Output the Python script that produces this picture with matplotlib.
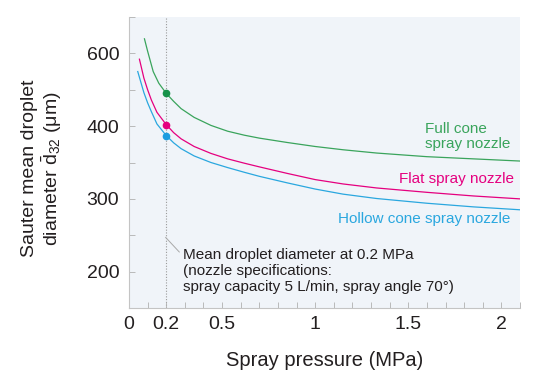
import matplotlib
matplotlib.use("Agg")
import matplotlib.pyplot as plt
from matplotlib.ticker import MultipleLocator

plt.rcParams['font.family'] = ['Liberation Sans', 'DejaVu Sans']
plt.rcParams['mathtext.fontset'] = 'custom'
plt.rcParams['mathtext.rm'] = 'Liberation Sans'

# ========== DATA ==========
full_p = [0.083, 0.1, 0.13, 0.16, 0.2, 0.24, 0.28, 0.35, 0.44, 0.53, 0.62, 0.7, 0.85, 1.0, 1.15, 1.33, 1.6, 1.85, 2.1]
full_d = [520, 503, 475, 459, 445, 434, 424, 412, 401, 393, 387.5, 383.5, 377.5, 372, 367.5, 363, 358, 355, 352]

flat_p = [0.056, 0.08, 0.1, 0.12, 0.15, 0.2, 0.24, 0.28, 0.35, 0.44, 0.53, 0.62, 0.7, 0.85, 1.0, 1.15, 1.33, 1.6, 1.85, 2.1]
flat_d = [492, 466, 450, 436, 419, 402, 391, 382.5, 372, 362.5, 355, 349, 344, 335, 326.5, 320.5, 315, 309, 304, 300]

hollow_p = [0.047, 0.08, 0.1, 0.12, 0.15, 0.2, 0.24, 0.28, 0.35, 0.44, 0.53, 0.62, 0.7, 0.85, 1.0, 1.15, 1.33, 1.6, 1.85, 2.1]
hollow_d = [475, 446, 432, 420, 403, 387, 377, 369, 359, 350, 343, 336.5, 331, 322, 313.5, 306.5, 300.5, 294, 289, 285]

spec_p = 0.2
spec_d = [445, 402, 387]

x_ticks = [0, 0.2, 0.5, 1, 1.5, 2]
x_labels = ["0", "0.2", "0.5", "1", "1.5", "2"]
y_ticks = [200, 300, 400, 500]
y_labels = ["200", "300", "400", "600"]

GREEN = "#3aa45c"
PINK = "#e5007f"
BLUE = "#2aa7df"
GREEN_DOT = "#17924a"
BLUE_DOT = "#1c9de0"

# ========== PLOT ==========
fig = plt.figure(figsize=(5.43, 3.88), dpi=100)
ax = fig.add_axes([129 / 543, 80 / 388, 391 / 543, 291 / 388])
ax.set_facecolor("#f0f4f9")

ax.plot(full_p, full_d, color=GREEN, lw=0.9)
ax.plot(flat_p, flat_d, color=PINK, lw=0.9)
ax.plot(hollow_p, hollow_d, color=BLUE, lw=0.9)

ax.axvline(spec_p, color="#9a9a9a", lw=0.8, ls=(0, (1, 1.5)), zorder=1)
for d, c in zip(spec_d, [GREEN_DOT, PINK, BLUE_DOT]):
    ax.plot(spec_p, d, "o", color=c, ms=4.5, zorder=4)

ax.set_xlim(0, 2.1)
ax.set_ylim(150, 550)
ax.set_xticks(x_ticks)
ax.set_xticklabels(x_labels)
ax.set_yticks(y_ticks)
ax.set_yticklabels(y_labels)
ax.xaxis.set_minor_locator(MultipleLocator(0.1))
ax.yaxis.set_minor_locator(MultipleLocator(50))
ax.tick_params(which="both", direction="in", color="#b0b0b0", width=0.6)
ax.tick_params(which="major", length=4, labelsize=14, labelcolor="#231f20")
ax.tick_params(axis="x", which="major", pad=6)
ax.tick_params(axis="y", which="major", pad=7)
ax.tick_params(which="minor", length=4)

for s in ["top", "right"]:
    ax.spines[s].set_visible(False)
for s in ["left", "bottom"]:
    ax.spines[s].set_color("#c4c4c4")
    ax.spines[s].set_linewidth(0.8)

ax.set_xlabel("Spray pressure (MPa)", fontsize=14.5, color="#231f20", labelpad=13)
ax.set_ylabel("Sauter mean droplet\ndiameter $\\bar{\\mathrm{d}}_{32}$ (μm)",
              fontsize=14, color="#231f20", linespacing=1.1)
ax.yaxis.set_label_coords(-0.165, 0.48)

ax.text(1.59, 366, "Full cone\nspray nozzle", color=GREEN, fontsize=11,
        ha="left", va="bottom", linespacing=1.1)
ax.text(2.07, 327, "Flat spray nozzle", color=PINK, fontsize=11,
        ha="right", va="center")
ax.text(2.05, 273, "Hollow cone spray nozzle", color=BLUE, fontsize=11,
        ha="right", va="center")

ax.plot([0.197, 0.27], [247, 227], color="#a8a8a8", lw=0.7)
ax.text(0.29, 233, "Mean droplet diameter at 0.2 MPa\n(nozzle specifications:\nspray capacity 5 L/min, spray angle 70°)",
        fontsize=11, color="#231f20", ha="left", va="top", linespacing=1.2)

fig.savefig("out.png", dpi=100)
